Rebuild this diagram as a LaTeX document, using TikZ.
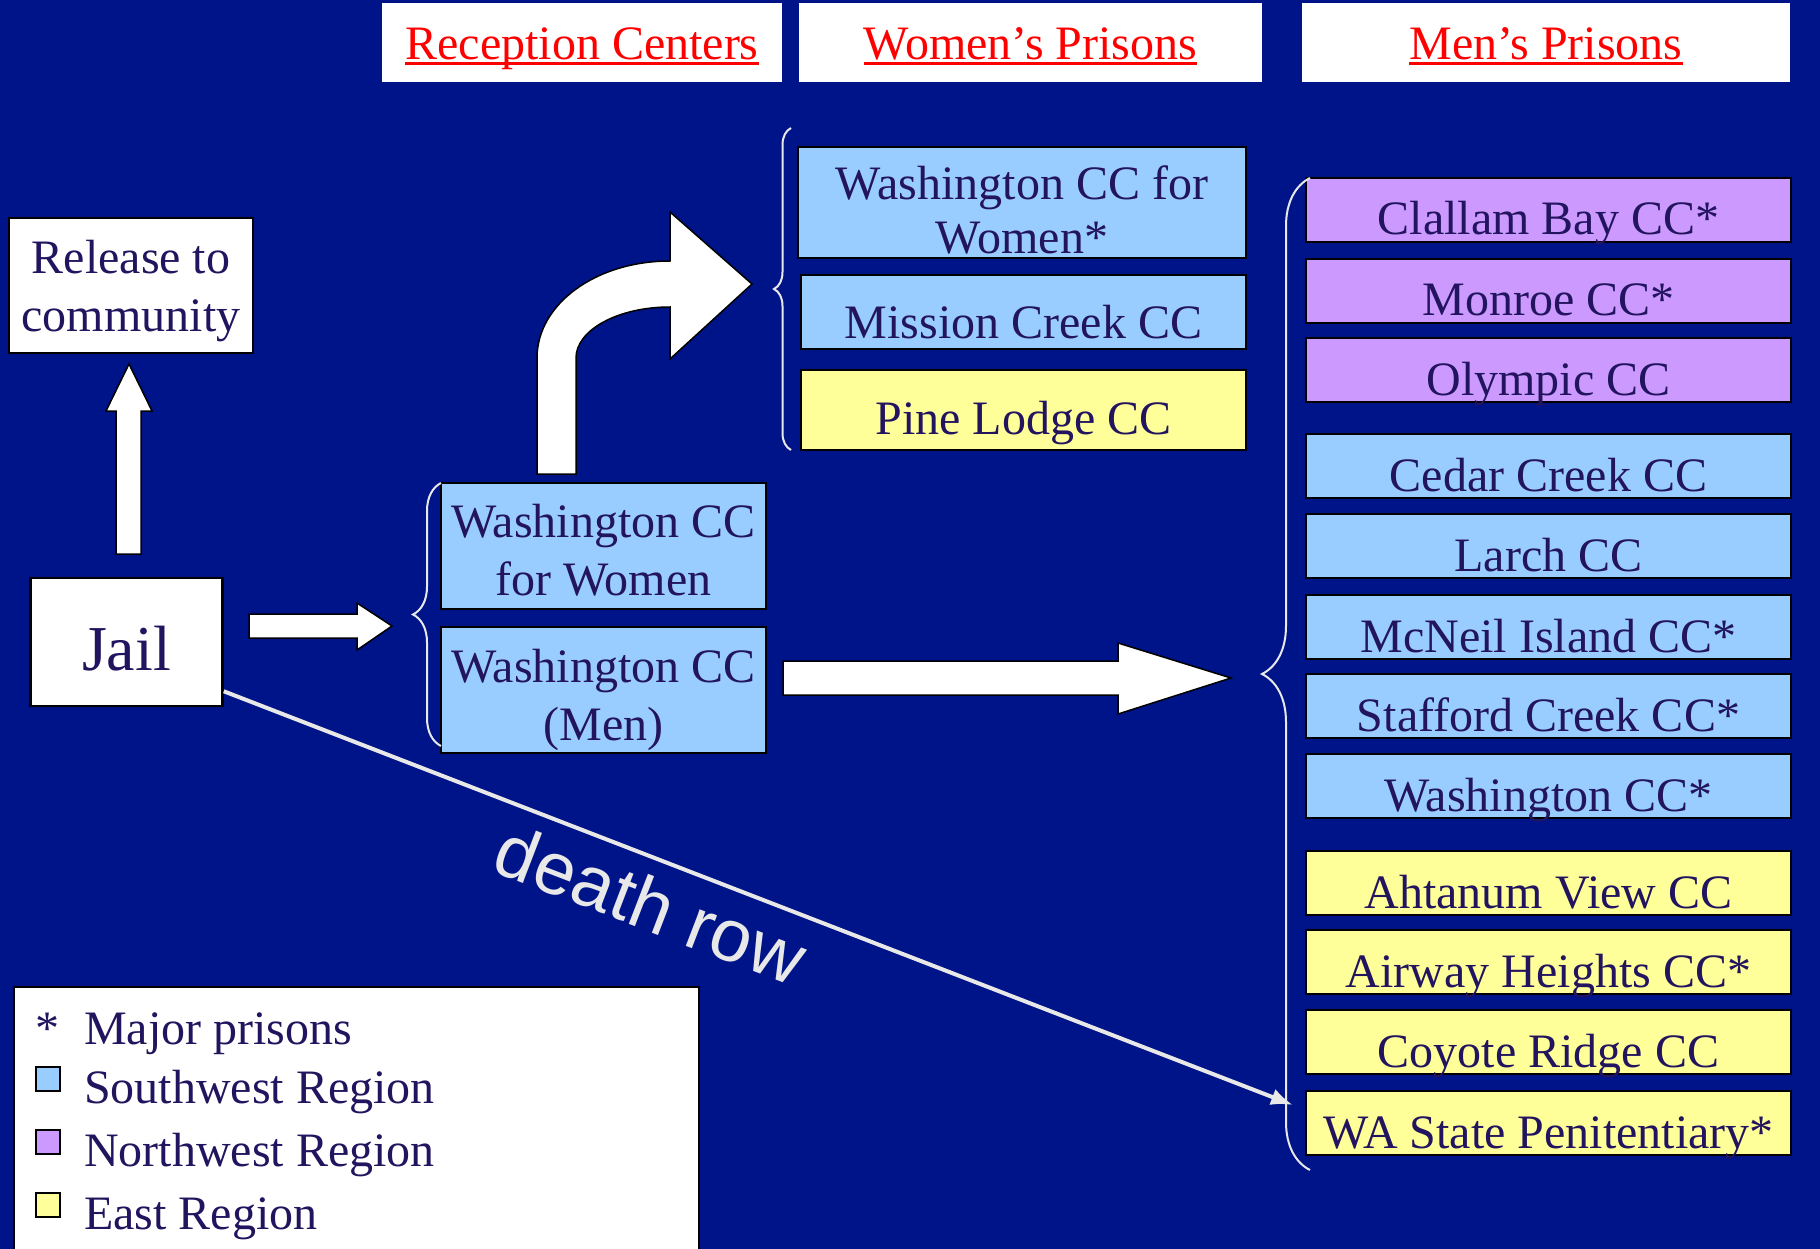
\documentclass[tikz,border=0pt]{standalone}
\usepackage{fontspec}
\setmainfont{Liberation Serif}
\newfontfamily\arialfont{Liberation Sans}
\usetikzlibrary{arrows.meta,decorations.pathreplacing}
\definecolor{slidebg}{RGB}{0,20,137}
\definecolor{inkblue}{RGB}{34,20,94}
\definecolor{swblue}{RGB}{153,204,255}
\definecolor{nwpurple}{RGB}{204,153,255}
\definecolor{eastyellow}{RGB}{255,255,153}
\definecolor{rowgray}{RGB}{232,232,232}
\newcommand{\slidefont}{\fontsize{48}{57.6}\selectfont}
\newcommand{\headline}[1]{\setbox0\hbox{#1}\rlap{\copy0}\rule[-5.5pt]{\wd0}{3pt}}
\begin{document}
\begin{tikzpicture}[x=1pt,y=-1pt,
    slidebox/.style={draw=black, line width=2.5pt, text=inkblue, font=\slidefont,
      inner sep=0pt, text height=50pt, text depth=0pt},
    menbox/.style={slidebox, minimum width=485pt, minimum height=64pt},
    headbox/.style={fill=white, text=red, font=\slidefont, minimum height=79pt,
      inner sep=0pt, text height=35pt, text depth=0pt},
    blockarrow/.style={fill=white, draw=black, line width=1.5pt},
    curly/.style={draw=rowgray, line width=2pt, decorate},
    legtext/.style={anchor=base west, inner sep=0pt, text=inkblue, font=\slidefont},
  ]
\useasboundingbox (0,0) rectangle (1820,1249);
\fill[slidebg] (0,0) rectangle (1820,1249);

% column heads
\node[headbox, minimum width=400pt] (recHead) at (582,42.5) {\headline{Reception Centers}};
\node[headbox, minimum width=463pt] (womHead) at (1030.5,42.5) {\headline{Women's Prisons}};
\node[headbox, minimum width=488pt] (menHead) at (1546,42.5) {\headline{Men's Prisons}};

% jail and release
\node[slidebox, fill=white, minimum width=244pt, minimum height=135pt, align=center,
  text height=91pt, text depth=0pt] (release) at (131,285.5) {Release to\\community};
\node[slidebox, fill=white, minimum width=192pt, minimum height=128pt,
  font=\fontsize{64}{76}\selectfont, text height=56pt] (jail) at (126.5,642) {Jail};

% reception centers
\node[slidebox, fill=swblue, minimum width=325pt, minimum height=126pt, align=center,
  text height=98pt] (recWomen) at (603.5,546) {Washington CC\\for Women};
\node[slidebox, fill=swblue, minimum width=325pt, minimum height=126pt, align=center,
  text height=100pt] (recMen) at (603.5,690) {Washington CC\\(Men)};

% women's prisons
\node[slidebox, fill=swblue, minimum width=448pt, minimum height=111pt, align=center,
  font=\fontsize{48}{53.5}\selectfont, text height=102pt]
  (wccw) at (1022,202.5) {Washington CC for\\Women*};
\node[slidebox, fill=swblue, minimum width=445pt, minimum height=74pt,
  text height=52pt] (mission) at (1023.5,312) {Mission Creek CC};
\node[slidebox, fill=eastyellow, minimum width=445pt, minimum height=80pt,
  text height=48pt] (pine) at (1023.5,410) {Pine Lodge CC};

% men's prisons
\foreach \txt/\col/\yc [count=\i] in {Clallam Bay CC*/nwpurple/210,
    Monroe CC*/nwpurple/291, Olympic CC/nwpurple/370,
    Cedar Creek CC/swblue/466, Larch CC/swblue/546,
    McNeil Island CC*/swblue/627, Stafford Creek CC*/swblue/706,
    Washington CC*/swblue/786, Ahtanum View CC/eastyellow/883,
    Airway Heights CC*/eastyellow/962, Coyote Ridge CC/eastyellow/1042,
    WA State Penitentiary*/eastyellow/1123}
{
    \node[menbox, fill=\col] (men\i) at (1548.5,\yc) {\txt};
}

% braces
\draw[curly, decoration={brace, amplitude=28pt}] (441,746) -- (441,483);
\draw[curly, decoration={brace, amplitude=17pt}] (791,450) -- (791,128);
\draw[curly, decoration={brace, amplitude=48pt}] (1310,1170) -- (1310,178);

% block arrows
\draw[blockarrow] (116,554) -- (116,411) -- (106,411) -- (129,364) -- (152,411)
  -- (141,411) -- (141,554) -- cycle;
\draw[blockarrow] (249,614) -- (357,614) -- (357,603) -- (392,626) -- (357,650)
  -- (357,638) -- (249,638) -- cycle;
\draw[blockarrow] (783,661) -- (1118,661) -- (1118,643) -- (1231,678) -- (1118,714)
  -- (1118,695) -- (783,695) -- cycle;
\draw[blockarrow] (537,474) -- (537,358) .. controls (537,304) and (596,261) .. (670,261)
  -- (670,212) -- (752,284) -- (670,359) -- (670,307)
  .. controls (618,307) and (576,330) .. (576,358) -- (576,474) -- cycle;

% death row
\coordinate (deathEnd) at (1293,1105);
\draw[rowgray, line width=4pt, -{Latex[length=22pt,width=17pt]}]
  ([yshift=16pt]jail.south east) -- (deathEnd);
\node[rotate=-21, text=rowgray, font=\arialfont\fontsize{74}{88}\selectfont]
  (deathLbl) at (651,904) {death row};

% legend
\draw[fill=white, line width=2pt] (14,987) rectangle (699,1262);
\node[anchor=base, text=inkblue, font=\slidefont, inner sep=0pt] (legStar) at (47,1044) {*};
\node[legtext] (legMajor) at (84,1044) {Major prisons};
\foreach \txt/\col/\yb [count=\i] in {Southwest Region/swblue/1103,
    Northwest Region/nwpurple/1166, East Region/eastyellow/1229}
{
    \node[draw=black, line width=2pt, fill=\col, minimum size=24pt, inner sep=0pt]
      (legBox\i) at (47.5,\yb-24) {};
    \node[legtext] (legText\i) at (84,\yb) {\txt};
}
\end{tikzpicture}
\end{document}
